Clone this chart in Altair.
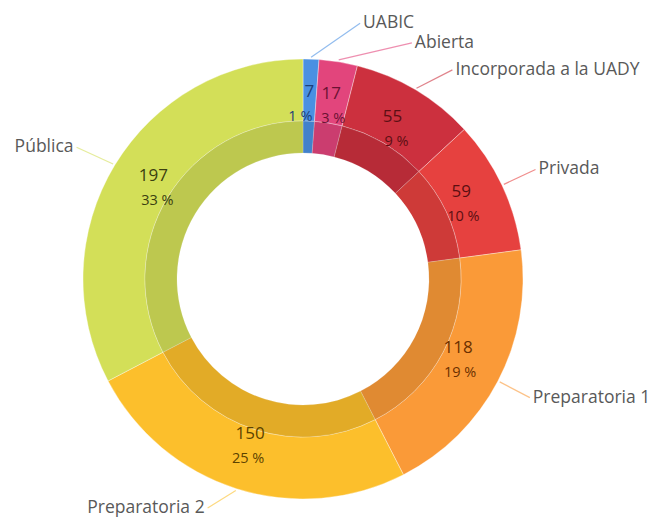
import altair as alt
import pandas as pd

# ---- data ----
categories = ["UABIC", "Abierta", "Incorporada a la UADY", "Privada",
              "Preparatoria 1", "Preparatoria 2", "Pública"]
values = [7, 17, 55, 59, 118, 150, 197]
percent_labels = ["1 %", "3 %", "9 %", "10 %", "19 %", "25 %", "33 %"]

# ---- styles / layout ----
colors = ["#4a90e2", "#e2457c", "#cc303e", "#e6413f", "#fa9a38", "#fcbf2c", "#d3df58"]
text_colors = ["#1c3f7a", "#6b1233", "#5c0f14", "#5c0f12", "#6b3000", "#5c4300", "#3b4010"]
label_shift = [10.5, 15.5, 4.8, 0.0, 0.0, 5.0, -1.0]     # degrees, to de-crowd labels
label_radius = [262, 260, 257, 257, 256, 248, 262]       # px, end of leader lines
label_side = ["right", "right", "right", "right", "right", "left", "left"]
pct_nudge = [-9, 2, 4, 2, 2, -2, 4]                      # px, pct label x nudges

CX, CY = 295, 271
R_OUT, R_MID, R_IN = 220, 158, 126
R_TXT, R_LINE0 = 175, 222

df = pd.DataFrame({
    "category": categories,
    "value": values,
    "pct": percent_labels,
    "idx": list(range(len(categories))),
    "shift": label_shift,
    "lr": label_radius,
    "side": label_side,
    "nudge": pct_nudge,
    "tcolor": text_colors,
})

color_scale = alt.Scale(domain=categories, range=colors)

base = alt.Chart(df)

theta = alt.Theta("value:Q", stack=True)
order = alt.Order("idx:Q", sort="ascending")

outer = base.mark_arc(radius=R_OUT, radius2=R_MID, stroke="#ffffff",
                      strokeWidth=0.6, strokeOpacity=0.6).encode(
    theta=theta, order=order,
    color=alt.Color("category:N", scale=color_scale, legend=None),
    x=alt.value(CX), y=alt.value(CY),
)
inner = base.mark_arc(radius=R_MID, radius2=R_IN, stroke="#ffffff",
                      strokeWidth=0.6, strokeOpacity=0.4).encode(
    theta=theta, order=order,
    color=alt.Color("category:N", scale=color_scale, legend=None),
    x=alt.value(CX), y=alt.value(CY),
)
shade = base.mark_arc(radius=R_MID, radius2=R_IN, fill="#000000",
                      fillOpacity=0.1, strokeWidth=0).encode(
    theta=theta, order=order,
    x=alt.value(CX), y=alt.value(CY),
)

geo = base.transform_window(
    cum="sum(value)", sort=[alt.SortField("idx", order="ascending")]
).transform_joinaggregate(
    total="sum(value)"
).transform_calculate(
    mid="(datum.cum - datum.value / 2) / datum.total * 2 * PI",
).transform_calculate(
    lab="datum.mid + datum.shift * PI / 180",
    tx=f"{CX} + {R_TXT} * sin(datum.mid)",
    ty=f"{CY} - {R_TXT} * cos(datum.mid)",
    lx0=f"{CX} + {R_LINE0} * sin(datum.mid)",
    ly0=f"{CY} - {R_LINE0} * cos(datum.mid)",
).transform_calculate(
    px="datum.tx + datum.nudge",
    lx1=f"{CX} + datum.lr * sin(datum.lab)",
    ly1=f"{CY} - datum.lr * cos(datum.lab)",
)

def X(f):
    return alt.X(f"{f}:Q", scale=None, axis=None)

def Y(f):
    return alt.Y(f"{f}:Q", scale=None, axis=None)

val_text = geo.mark_text(font="Open Sans", fontSize=17, dy=-12,
                         baseline="middle", align="center").encode(
    x=X("tx"), y=Y("ty"), text="value:Q",
    color=alt.Color("tcolor:N", scale=None),
)
pct_text = geo.mark_text(font="Open Sans", fontSize=14.5, dy=13,
                         baseline="middle", align="center").encode(
    x=X("px"), y=Y("ty"), text="pct:N",
    color=alt.Color("tcolor:N", scale=None),
)

leaders = geo.mark_rule(strokeWidth=1.2, opacity=0.6).encode(
    x=X("lx0"), y=Y("ly0"), x2="lx1:Q", y2="ly1:Q",
    color=alt.Color("category:N", scale=color_scale, legend=None),
)

lab_right = geo.transform_filter("datum.side == 'right'").mark_text(
    font="Open Sans", fontSize=17.5, align="left", baseline="middle",
    dx=3, color="#595959").encode(x=X("lx1"), y=Y("ly1"), text="category:N")
lab_left = geo.transform_filter("datum.side == 'left'").mark_text(
    font="Open Sans", fontSize=17.5, align="right", baseline="middle",
    dx=-3, color="#595959").encode(x=X("lx1"), y=Y("ly1"), text="category:N")

chart = alt.layer(
    outer, inner, shade, leaders, val_text, pct_text, lab_right, lab_left
).properties(
    width=641, height=511, padding=0, background="#ffffff",
    autosize=alt.AutoSizeParams(type="none"),
).configure_view(stroke=None)

chart.save("out.html", embed_options={"renderer": "svg", "actions": False})
